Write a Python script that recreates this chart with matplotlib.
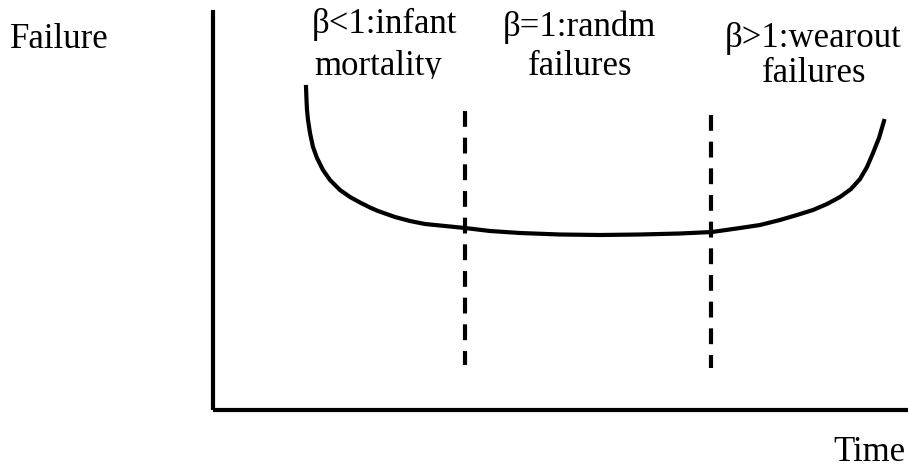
import matplotlib.pyplot as plt
from matplotlib.transforms import Bbox

# bathtub curve (time, failure rate), arbitrary units
time = [9.3, 9.35, 9.4, 9.5, 9.7, 10.0, 10.4, 11.0, 11.7, 12.7, 13.7, 14.7, 15.7,
        16.5, 18.2, 19.7, 21.2, 22.7, 25.2, 27.7, 30.7, 34.7, 38.7, 42.7, 46.7,
        49.9, 52.7, 54.7, 56.7, 58.4, 60.0, 61.4, 62.7, 63.8, 64.7, 65.4, 66.0,
        66.6, 67.1]
failure = [32.3, 31.0, 30.0, 29.0, 27.7, 26.3, 25.2, 24.0, 23.0, 22.0, 21.3, 20.75,
           20.25, 19.9, 19.3, 18.9, 18.6, 18.45, 18.2, 17.9, 17.7, 17.55, 17.5,
           17.55, 17.65, 17.8, 18.2, 18.5, 19.0, 19.5, 20.0, 20.6, 21.3, 22.1,
           23.1, 24.3, 25.7, 27.2, 28.9]

# region boundaries
bound_t = [25.2, 49.8]
bound_top = [29.9, 29.5]
bound_bot = [4.5, 4.2]

labels = ['\u03b2<1:infant', 'mortality', '\u03b2=1:randm', 'failures',
          '\u03b2>1:wearout', 'failures']

plt.rcParams['font.family'] = ['Liberation Serif', 'DejaVu Serif']

W, H = 908, 470
fig = plt.figure(figsize=(W / 100, H / 100), dpi=100)
ax = fig.add_axes([213 / W, (H - 410) / H, (W - 213) / W, 400 / H])
ax.set_xlim(0, 69.5)
ax.set_ylim(0, 40)
for s in ['top', 'right']:
    ax.spines[s].set_visible(False)
for s in ['left', 'bottom']:
    ax.spines[s].set_linewidth(3)
    ax.spines[s].set_capstyle('butt')
ax.set_xticks([])
ax.set_yticks([])
ax.patch.set_visible(False)

ax.plot(time, failure, color='black', lw=3, solid_joinstyle='round', clip_on=False)
for t, a, b in zip(bound_t, bound_top, bound_bot):
    ax.plot([t, t], [a, b], color='black', lw=3, dashes=(3.8, 2.6), dash_capstyle='butt')

fs = 25
fig.text(10 / W, 1 - 48 / H, 'Failure', fontsize=fs, va='baseline')
fig.text(905 / W, 1 - 461 / H, 'Time', fontsize=fs, va='baseline', ha='right')

# top labels: centre x and baseline y in pixels
pos = [(384, 33), (378, 75), (579, 36), (580, 75), (813, 47), (814, 82)]
for txt, (x, y) in zip(labels, pos):
    t = fig.text(x / W, 1 - y / H, txt, fontsize=fs, ha='center', va='baseline')
    if txt == 'mortality':
        t.set_clip_box(Bbox([[0, H - 79], [W, H]]))
        t.set_clip_on(True)

fig.savefig('out.png', dpi=100)
